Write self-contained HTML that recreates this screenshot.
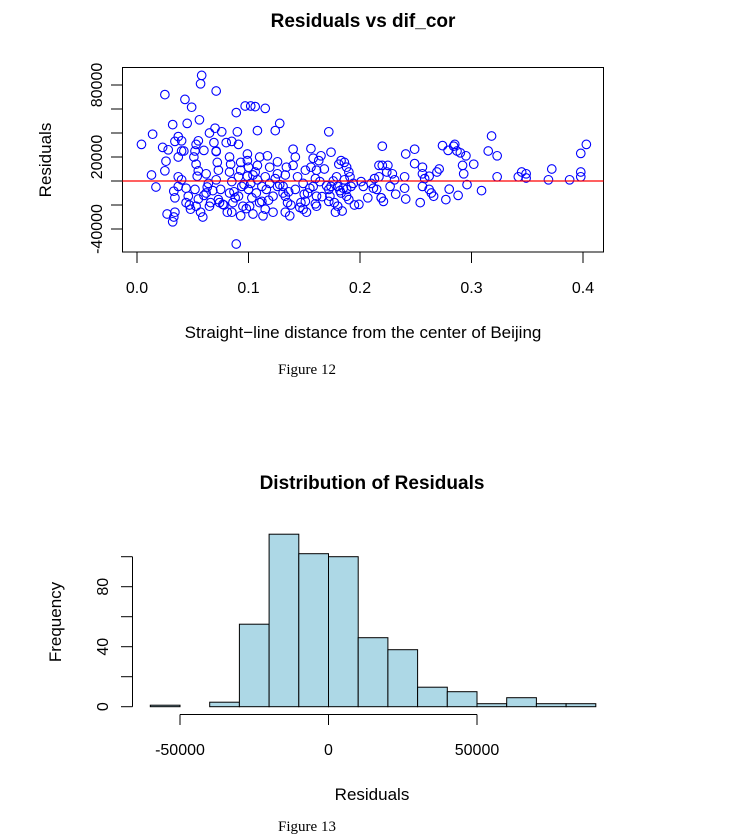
<!DOCTYPE html>
<html><head><meta charset="utf-8"><style>
body{margin:0;background:#fff;width:733px;height:840px;overflow:hidden}
svg{display:block}
text{font-family:"Liberation Sans",sans-serif;fill:#000}
</style></head><body>
<svg id="svg" width="733" height="840">
<g id="scatter"></g>
<g id="hist"></g>
<text x="363" y="27" text-anchor="middle" font-size="19" font-weight="bold">Residuals vs dif_cor</text>
<text x="363" y="338" text-anchor="middle" font-size="17">Straight−line distance from the center of Beijing</text>
<text transform="translate(51,160) rotate(-90)" text-anchor="middle" font-size="17">Residuals</text>
<text x="307" y="374" text-anchor="middle" font-size="15" style="font-family:'Liberation Serif',serif">Figure 12</text>
<text x="372" y="489" text-anchor="middle" font-size="19" font-weight="bold">Distribution of Residuals</text>
<text x="372" y="800" text-anchor="middle" font-size="17">Residuals</text>
<text transform="translate(61,622) rotate(-90)" text-anchor="middle" font-size="17">Frequency</text>
<text x="307" y="831" text-anchor="middle" font-size="15" style="font-family:'Liberation Serif',serif">Figure 13</text>
</svg>
<script>
// scatter data: distance and residual (thousands)
const distX=[0.004,0.013,0.017,0.014,0.025,0.023,0.026,0.025,0.028,0.027,0.032,0.033,0.034,0.033,0.034,0.032,0.034,0.037,0.040,0.042,0.040,0.037,0.037,0.040,0.037,0.043,0.049,0.045,0.044,0.046,0.044,0.048,0.052,0.051,0.053,0.055,0.056,0.057,0.058,0.053,0.055,0.054,0.052,0.055,0.053,0.057,0.059,0.060,0.062,0.064,0.062,0.066,0.065,0.065,0.069,0.071,0.071,0.070,0.071,0.072,0.073,0.071,0.075,0.073,0.077,0.076,0.081,0.085,0.080,0.083,0.084,0.083,0.085,0.083,0.086,0.085,0.089,0.089,0.090,0.091,0.093,0.093,0.091,0.094,0.091,0.095,0.093,0.097,0.099,0.099,0.100,0.099,0.102,0.100,0.103,0.101,0.104,0.102,0.106,0.108,0.110,0.108,0.106,0.108,0.112,0.107,0.110,0.115,0.113,0.115,0.117,0.119,0.115,0.119,0.116,0.122,0.122,0.124,0.126,0.126,0.128,0.126,0.131,0.133,0.134,0.133,0.131,0.133,0.135,0.137,0.140,0.142,0.140,0.144,0.142,0.147,0.149,0.151,0.149,0.153,0.151,0.152,0.156,0.158,0.156,0.160,0.158,0.161,0.161,0.163,0.165,0.161,0.164,0.172,0.172,0.174,0.168,0.172,0.174,0.173,0.177,0.178,0.179,0.180,0.183,0.186,0.181,0.183,0.180,0.184,0.186,0.188,0.190,0.188,0.191,0.190,0.192,0.188,0.199,0.201,0.203,0.207,0.213,0.217,0.215,0.220,0.225,0.217,0.219,0.221,0.219,0.220,0.224,0.229,0.231,0.227,0.240,0.240,0.241,0.241,0.249,0.249,0.254,0.256,0.256,0.258,0.256,0.262,0.264,0.266,0.269,0.271,0.274,0.277,0.279,0.280,0.284,0.285,0.287,0.290,0.288,0.292,0.293,0.295,0.296,0.302,0.309,0.315,0.318,0.323,0.323,0.342,0.345,0.349,0.349,0.369,0.372,0.388,0.398,0.398,0.398,0.403,0.060,0.068,0.078,0.088,0.096,0.104,0.118,0.124,0.136,0.146,0.155,0.166,0.176,0.185,0.195,0.210,0.047,0.063,0.074,0.087,0.098,0.112,0.128,0.138,0.150,0.160,0.170,0.182,0.194,0.212,0.232,0.262];
const resid=[30.5,5,-5,39,72,28,16.5,8.5,26,-27.5,-34,-30,-26,-8.5,-14,47,33,37,33.5,25,25,20,3.5,1,-4.5,68,61.5,48,-6,-12.7,-18,-23.5,25,20,30.5,33.5,51,81,88,14,8.5,4,-7,-15,-21,-26,-30,25.5,6,-2,-10,-18,-21,40,32,25,75,44,24.5,15.5,9,1,-7,-15.5,-19.5,41,-26,33,32,20,14,7.5,-0.5,-10,-18,-26,-52.5,57,41,30.5,15.5,9,3.5,-4.5,-12.7,-21,-29,62.5,22.5,17,11.5,4,-2,-7,-14,-21,-27.5,62.5,62,42,20,13,7.5,1,-4.5,-10,-18,-23.5,-29,60.5,21,11.5,3.5,-2,-7,-12.7,-26,42,16,6,48,-4.5,-10,-26,11.5,5,-4.5,-12.7,-18,-29,26.5,20,13,3.5,-7,-18,-23.5,9,-2,-10,-17,-26,27,19,11.5,2,-4.5,-12.7,-21,17,21,9,-0.5,-7,-17,24,10,41,-4.5,-12.7,-18,-26,3.5,-4.5,17,15.5,14,-10,-21,-25,1,-7,-15.5,11.5,3.5,7.5,-4.5,-12.7,-19.5,-0.5,-4.5,-14,2,3.5,-7,13,13,13,-14,-17,-14,29,7.5,6,1,-4.5,3.5,-6,-15,22.5,26.5,14.5,-18,11.5,6,2,-4.5,-7,-10,-12.7,7.5,10,29.5,-15.5,25.5,-6.8,29,30.5,25,23.5,-12,13,6,21,-3,14,-8,25,37.5,21,3.5,3.5,7.5,6,2.5,1,10,1,7.5,3.5,23,30.5,-12,-8,-20,-14,-3,5,-16,2,-9,-22,-6,-13,0,-6,-20,-2,-20,-5,-18,-9,-23,-17,-3,-20,-11,-19,-4,-8,-2,-6,-11,4];
// histogram data
const binStarts=[-60000,-50000,-40000,-30000,-20000,-10000,0,10000,20000,30000,40000,50000,60000,70000,80000];
const counts=[1,0,3,55,115,102,100,46,38,13,10,2,6,2,2];
const sxTicks=[0,0.1,0.2,0.3,0.4];
const syTicks=[-40000,-20000,0,20000,40000,60000,80000];
const syLabels=["-40000","","","20000","","","80000"];
const hxTicks=[-50000,0,50000];
const hxLabels=["-50000","0","50000"];
const hyTicks=[0,20,40,60,80,100];
const hyLabels=["0","","40","","80",""];

const NS="http://www.w3.org/2000/svg";
function mk(p,tag,a){const e=document.createElementNS(NS,tag);for(const k in a)e.setAttribute(k,a[k]);p.appendChild(e);return e;}
const sx=v=>137+v*1115;
const sy=v=>181-v*0.0012;
const sc=document.getElementById('scatter');
const box=mk(sc,'rect',{x:122.5,y:67.5,width:481,height:184.5,fill:'none',stroke:'#000','stroke-width':1});


const n=Math.min(distX.length,resid.length);
for(let i=0;i<n;i++){
  if(!isFinite(distX[i])||!isFinite(resid[i]))continue;
  const c=mk(sc,'circle',{cx:sx(distX[i]),cy:sy(resid[i]*1000),r:4.3,fill:'none',stroke:'#0000ff','stroke-width':1.1});
  
  
}
const zl=mk(sc,'line',{x1:122.5,x2:603.5,y1:sy(0),y2:sy(0),stroke:'#ff0000','stroke-width':1.2});


sxTicks.forEach(v=>{
  const t=mk(sc,'line',{x1:sx(v),x2:sx(v),y1:252,y2:263,stroke:'#000'});
  
  
  const l=mk(sc,'text',{x:sx(v),y:293,'text-anchor':'middle','font-size':16});
  l.textContent=v.toFixed(1);
  
  
});
syTicks.forEach((v,i)=>{
  const t=mk(sc,'line',{x1:111,x2:122.5,y1:sy(v),y2:sy(v),stroke:'#000'});
  
  
  if(syLabels[i]){
    const l=mk(sc,'text',{transform:`translate(102,${sy(v)}) rotate(-90)`,'text-anchor':'middle','font-size':16});
    l.textContent=syLabels[i];
    
    
  }
});
const hx=v=>328.5+v*0.00297;
const hy=v=>706.7-v*1.5;
const hg=document.getElementById('hist');
binStarts.forEach((b,i)=>{
  const r=mk(hg,'rect',{x:hx(b),y:hy(counts[i]),width:hx(b+10000)-hx(b),height:hy(0)-hy(counts[i]),fill:'#add8e6',stroke:'#000','stroke-width':1});
  
  
});
const xa=mk(hg,'line',{x1:hx(hxTicks[0]),x2:hx(hxTicks[hxTicks.length-1]),y1:714.5,y2:714.5,stroke:'#000'});


hxTicks.forEach((v,i)=>{
  const t=mk(hg,'line',{x1:hx(v),x2:hx(v),y1:714.5,y2:725,stroke:'#000'});
  
  
  const l=mk(hg,'text',{x:hx(v),y:755,'text-anchor':'middle','font-size':16});
  l.textContent=hxLabels[i];
  
  
});
const ya=mk(hg,'line',{x1:132.5,x2:132.5,y1:hy(hyTicks[0]),y2:hy(hyTicks[hyTicks.length-1]),stroke:'#000'});


hyTicks.forEach((v,i)=>{
  const t=mk(hg,'line',{x1:121,x2:132.5,y1:hy(v),y2:hy(v),stroke:'#000'});
  
  
  if(hyLabels[i]){
    const l=mk(hg,'text',{transform:`translate(108,${hy(v)}) rotate(-90)`,'text-anchor':'middle','font-size':16});
    l.textContent=hyLabels[i];
    
    
  }
});
</script>
</body></html>
